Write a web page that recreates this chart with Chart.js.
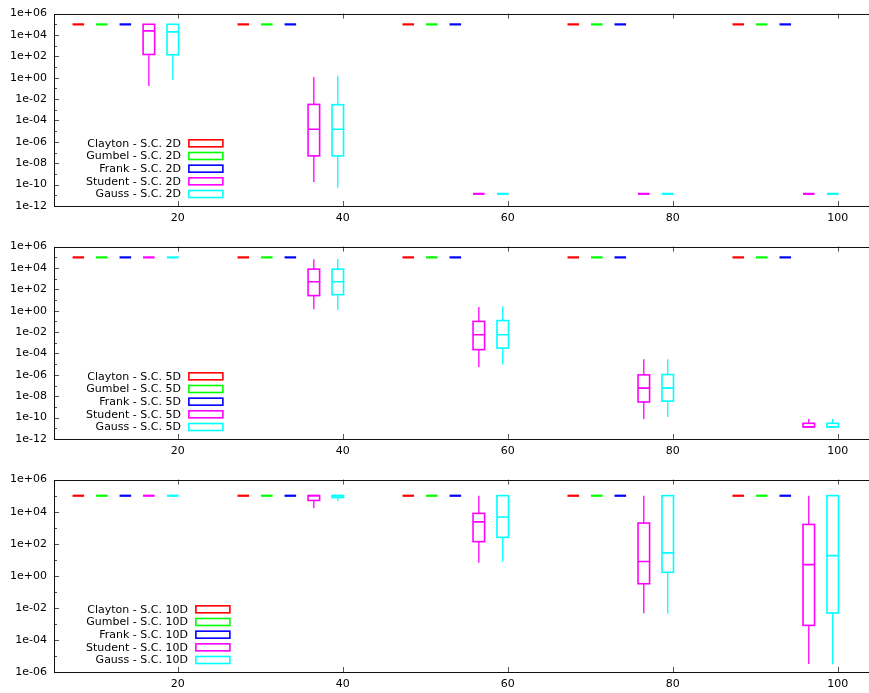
<!DOCTYPE html>
<html>
<head>
<meta charset="utf-8">
<script src="https://cdn.jsdelivr.net/npm/chart.js@4.4.1/dist/chart.umd.min.js"></script>
<style>
   html, body { margin: 0; padding: 0; background: #fff; overflow: hidden; }
   canvas { display: block; }
</style>
</head>
<body>
<canvas id="panel2D" width="869" height="233"></canvas>
<canvas id="panel5D" width="869" height="233"></canvas>
<canvas id="panel10D" width="869" height="227"></canvas>
<script>
// Data: each row is [whisker low, q1, median, q3, whisker high]
// ----------------------------------------------
const groupX      = [20, 40, 60, 80, 100];
const seriesShift = [-12.05, -9.2, -6.35, -3.5, -0.6];
const seriesNames = ['Clayton', 'Gumbel', 'Frank', 'Student', 'Gauss'];
const xTicks      = [20, 40, 60, 80, 100];
const yTicksWide  = [1e6, 1e4, 1e2, 1e0, 1e-2, 1e-4, 1e-6, 1e-8, 1e-10, 1e-12];
const yTicksShort = [1e6, 1e4, 1e2, 1e0, 1e-2, 1e-4, 1e-6];

// 2D
const clayton2D = [[1e5,1e5,1e5,1e5,1e5], [1e5,1e5,1e5,1e5,1e5], [1e5,1e5,1e5,1e5,1e5], [1e5,1e5,1e5,1e5,1e5], [1e5,1e5,1e5,1e5,1e5]];
const gumbel2D  = [[8e4,1e5,1e5,1e5,1e5], [8e4,1e5,1e5,1e5,1e5], [8e4,1e5,1e5,1e5,1e5], [8e4,1e5,1e5,1e5,1e5], [8e4,1e5,1e5,1e5,1e5]];
const frank2D   = [[1e5,1e5,1e5,1e5,1e5], [1e5,1e5,1e5,1e5,1e5], [1e5,1e5,1e5,1e5,1e5], [1e5,1e5,1e5,1e5,1e5], [1e5,1e5,1e5,1e5,1e5]];
const student2D = [[0.17,150,2.4e4,1e5,1e5], [1.8e-10,4.9e-8,1.5e-5,3.2e-3,1.15], [1.4e-11,1.4e-11,1.4e-11,1.4e-11,1.4e-11], [1.4e-11,1.4e-11,1.4e-11,1.4e-11,1.4e-11], [1.4e-11,1.4e-11,1.4e-11,1.4e-11,1.4e-11]];
const gauss2D   = [[0.65,141,1.95e4,1e5,1e5], [5e-11,4.9e-8,1.5e-5,3e-3,1.55], [1.4e-11,1.4e-11,1.4e-11,1.4e-11,1.4e-11], [1.4e-11,1.4e-11,1.4e-11,1.4e-11,1.4e-11], [1.4e-11,1.4e-11,1.4e-11,1.4e-11,1.4e-11]];

// 5D
const clayton5D = [[1e5,1e5,1e5,1e5,1e5], [1e5,1e5,1e5,1e5,1e5], [1e5,1e5,1e5,1e5,1e5], [1e5,1e5,1e5,1e5,1e5], [1e5,1e5,1e5,1e5,1e5]];
const gumbel5D  = [[1e5,1e5,1e5,1e5,1e5], [1e5,1e5,1e5,1e5,1e5], [1e5,1e5,1e5,1e5,1e5], [1e5,1e5,1e5,1e5,1e5], [1e5,1e5,1e5,1e5,1e5]];
const frank5D   = [[1e5,1e5,1e5,1e5,1e5], [1e5,1e5,1e5,1e5,1e5], [1e5,1e5,1e5,1e5,1e5], [1e5,1e5,1e5,1e5,1e5], [1e5,1e5,1e5,1e5,1e5]];
const student5D = [[1e5,1e5,1e5,1e5,1e5], [1.4,26,513,7.8e3,6.6e4], [5.5e-6,2.3e-4,5.6e-3,0.1,2.2], [7.6e-11,2.9e-9,5.8e-8,1e-6,2.9e-5], [1.35e-11,1.35e-11,1.35e-11,2.95e-11,7.6e-11]];
const gauss5D   = [[1e5,1e5,1e5,1e5,1e5], [1.2,32,513,7.8e3,7.1e4], [9.1e-6,3.2e-4,5.6e-3,0.12,2.6], [1.15e-10,3.5e-9,5.8e-8,1.07e-6,2.9e-5], [1.35e-11,1.35e-11,1.35e-11,2.95e-11,7.6e-11]];

// 10D
const clayton10D = [[1e5,1e5,1e5,1e5,1e5], [1e5,1e5,1e5,1e5,1e5], [1e5,1e5,1e5,1e5,1e5], [1e5,1e5,1e5,1e5,1e5], [1e5,1e5,1e5,1e5,1e5]];
const gumbel10D  = [[1e5,1e5,1e5,1e5,1e5], [1e5,1e5,1e5,1e5,1e5], [1e5,1e5,1e5,1e5,1e5], [1e5,1e5,1e5,1e5,1e5], [1e5,1e5,1e5,1e5,1e5]];
const frank10D   = [[1e5,1e5,1e5,1e5,1e5], [1e5,1e5,1e5,1e5,1e5], [1e5,1e5,1e5,1e5,1e5], [1e5,1e5,1e5,1e5,1e5], [1e5,1e5,1e5,1e5,1e5]];
const student10D = [[1e5,1e5,1e5,1e5,1e5], [1.66e4,5e4,1e5,1e5,1e5], [6.5,135,2.3e3,7.8e3,1e5], [4.6e-3,0.32,7.8,1.95e3,1e5], [3.1e-6,8.1e-4,5,1.6e3,1e5]];
const gauss10D   = [[1e5,1e5,1e5,1e5,1e5], [4.6e4,7.6e4,1e5,1e5,1e5], [7.4,250,4.6e3,1e5,1e5], [4.4e-3,1.66,27,1e5,1e5], [3e-6,4.8e-3,18,1e5,1e5]];

const seriesColors = ['#ff0000', '#00ff00', '#0000ff', '#ff00ff', '#00ffff'];

Chart.defaults.font.family = "'DejaVu Sans', sans-serif";
Chart.defaults.font.size = 11;
Chart.defaults.color = '#000';


// Helpers
// ----------------------------------------------
const expLabel = function( v ) {
   const e = Math.round(Math.log10(v));
   return '1e' + (e < 0 ? '-' : '+') + String(Math.abs(e)).padStart(2, '0');
}

// Draws frame, inward ticks, box plots and a gnuplot style key
const boxPlugin = {
   id: 'gnuBoxes',
   afterDatasetsDraw( chart ) {
      const ctx = chart.ctx;
      const { left, right, top, bottom } = chart.chartArea;
      const xs = chart.scales.x, ys = chart.scales.y;
      const halfW = 0.7;

      // Boxes
      ctx.save();
      ctx.beginPath();
      ctx.rect(left, top, right - left, bottom - top);
      ctx.clip();
      chart.data.datasets.forEach(ds => {
         ctx.strokeStyle = ds.borderColor;
         ctx.fillStyle = ds.borderColor;
         ds.data.forEach(p => {
            const [lo, q1, med, q3, hi] = p.stats;
            const xc = xs.getPixelForValue(p.x);
            const x0 = xs.getPixelForValue(p.x - halfW);
            const x1 = xs.getPixelForValue(p.x + halfW);
            const yLo = ys.getPixelForValue(lo), yQ1 = ys.getPixelForValue(q1);
            const yMed = ys.getPixelForValue(med), yQ3 = ys.getPixelForValue(q3);
            const yHi = ys.getPixelForValue(hi);
            ctx.lineWidth = 1.6;
            if (Math.abs(yQ1 - yQ3) < 1.5) {
               ctx.fillRect(x0, Math.min(yQ1, yQ3) - 1, x1 - x0, Math.abs(yQ1 - yQ3) + 2.2);
            } else {
               ctx.strokeRect(x0, yQ3, x1 - x0, yQ1 - yQ3);
               ctx.beginPath();
               ctx.moveTo(x0, yMed);
               ctx.lineTo(x1, yMed);
               ctx.stroke();
            }
            ctx.lineWidth = 1.3;
            ctx.beginPath();
            if (yLo - yQ1 > 0.5) { ctx.moveTo(xc, yQ1); ctx.lineTo(xc, yLo); }
            if (yQ3 - yHi > 0.5) { ctx.moveTo(xc, yQ3); ctx.lineTo(xc, yHi); }
            ctx.stroke();
         });
      });
      ctx.restore();

      // Frame and ticks
      ctx.save();
      ctx.strokeStyle = '#555';
      ctx.lineWidth = 1;
      ctx.beginPath();
      const majors = ys.ticks.map(t => t.value);
      majors.forEach((v, i) => {
         const y = Math.round(ys.getPixelForValue(v)) + 0.5;
         ctx.moveTo(left, y); ctx.lineTo(left + 5, y);
         if (i < majors.length - 1) {
            const ym = Math.round(ys.getPixelForValue(v / 10)) + 0.5;
            ctx.moveTo(left, ym); ctx.lineTo(left + 3, ym);
         }
      });
      xs.ticks.forEach(t => {
         const x = Math.round(xs.getPixelForValue(t.value)) + 0.5;
         ctx.moveTo(x, top); ctx.lineTo(x, top + 5);
         ctx.moveTo(x, bottom); ctx.lineTo(x, bottom - 5);
      });
      ctx.stroke();
      ctx.strokeStyle = '#111';
      ctx.strokeRect(Math.round(left) + 0.5, Math.round(top) + 0.5, right - left + 10, Math.round(bottom - top));
      ctx.restore();

      // Key, bottom left inside plot
      ctx.save();
      ctx.font = "11px 'DejaVu Sans', sans-serif";
      ctx.textAlign = 'right';
      ctx.textBaseline = 'middle';
      const labels = chart.data.datasets.map(ds => ds.label);
      const textW = Math.max(...labels.map(l => ctx.measureText(l).width));
      const textRight = 86 + textW;
      const rowH = 12.67;
      chart.data.datasets.forEach((ds, i) => {
         const y = bottom - 12 - (labels.length - 1 - i) * rowH;
         ctx.fillStyle = '#000';
         ctx.fillText(ds.label, textRight, y + 0.5);
         ctx.strokeStyle = ds.borderColor;
         ctx.lineWidth = 1.6;
         ctx.strokeRect(textRight + 8, y - 3.5, 34, 7);
      });
      ctx.restore();
   }
};


// Build one panel
// ----------------------------------------------
const makePanel = function( canvasId, dim, statsList, yTicks ) {
   const canvas = document.getElementById(canvasId);
   const datasets = statsList.map((stats, s) => ({
      label: seriesNames[s] + ' - S.C. ' + dim,
      borderColor: seriesColors[s],
      backgroundColor: seriesColors[s],
      data: groupX.map((g, i) => ({ x: g + seriesShift[s], y: stats[i][2], stats: stats[i] })),
      pointRadius: 0,
      showLine: false
   }));

   return new Chart(canvas, {
      type: 'scatter',
      data: { datasets },
      options: {
         responsive: false,
         animation: false,
         events: [],
         layout: { padding: { top: 13, left: 0, right: 0, bottom: 0 } },
         plugins: {
            legend: { display: false },
            tooltip: { enabled: false }
         },
         scales: {
            x: {
               type: 'linear',
               min: 5,
               max: 103.8,
               grid: { display: false, drawTicks: false },
               border: { display: false },
               afterBuildTicks: scale => { scale.ticks = xTicks.map(v => ({ value: v })); },
               afterFit: scale => { scale.height = canvas.height - 206; },
               ticks: { padding: 6, autoSkip: false, maxRotation: 0, callback: v => String(v) }
            },
            y: {
               type: 'logarithmic',
               min: yTicks[yTicks.length - 1],
               max: yTicks[0],
               grid: { display: false, drawTicks: false },
               border: { display: false },
               afterBuildTicks: scale => { scale.ticks = yTicks.map(v => ({ value: v })); },
               afterFit: scale => { scale.width = 54; },
               ticks: { padding: 7, autoSkip: false, callback: v => expLabel(v) }
            }
         }
      },
      plugins: [boxPlugin]
   });
}

document.addEventListener( "DOMContentLoaded", () => {
   makePanel('panel2D', '2D', [clayton2D, gumbel2D, frank2D, student2D, gauss2D], yTicksWide);
   makePanel('panel5D', '5D', [clayton5D, gumbel5D, frank5D, student5D, gauss5D], yTicksWide);
   makePanel('panel10D', '10D', [clayton10D, gumbel10D, frank10D, student10D, gauss10D], yTicksShort);
});
</script>
</body>
</html>
